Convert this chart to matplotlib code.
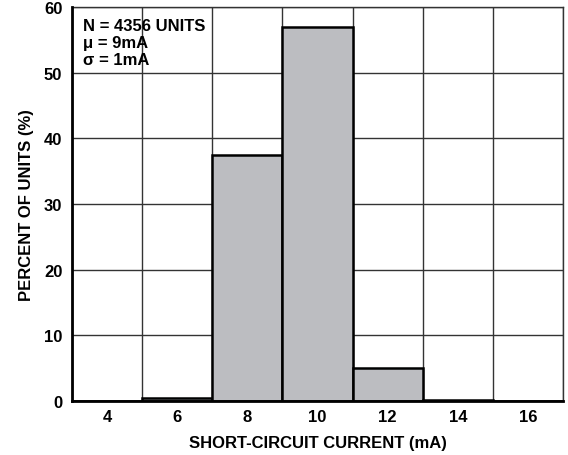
import matplotlib
matplotlib.use("Agg")
import matplotlib.pyplot as plt

# histogram of short-circuit current
bin_left = [3, 5, 7, 9, 11, 13, 15]
percent = [0.0, 0.4, 37.4, 57.0, 5.0, 0.2, 0.0]
bin_width = 2
x_ticks = [4, 6, 8, 10, 12, 14, 16]
y_ticks = [0, 10, 20, 30, 40, 50, 60]
stats_text = "N = 4356 UNITS\nμ = 9mA\nσ = 1mA"

plt.rcParams["font.family"] = ["Liberation Sans", "DejaVu Sans"]
plt.rcParams["font.weight"] = "bold"

fig = plt.figure(figsize=(5.68, 4.56), dpi=100)
ax = fig.add_axes([0.1268, 0.1184, 0.8644, 0.8641])

# grid at odd values (bin edges) and every 10 %
for xv in range(3, 18, 2):
    ax.axvline(xv, color="#333333", lw=1.0, zorder=1)
for yv in y_ticks:
    ax.axhline(yv, color="#333333", lw=1.0, zorder=1)

ax.bar(bin_left, percent, width=bin_width, align="edge", color="#bcbdc1",
       edgecolor="black", linewidth=1.8, zorder=2)

ax.set_xlim(3, 17)
ax.set_ylim(0, 60)
ax.set_xticks(x_ticks)
ax.set_yticks(y_ticks)
ax.tick_params(length=0, labelsize=12)
ax.tick_params(axis="x", pad=6)
ax.tick_params(axis="y", pad=7)
for lab in ax.get_xticklabels() + ax.get_yticklabels():
    lab.set_fontweight("bold")

for side in ["top", "right"]:
    ax.spines[side].set_linewidth(1.0)
    ax.spines[side].set_color("#333333")
for side in ["left", "bottom"]:
    ax.spines[side].set_linewidth(2.0)
    ax.spines[side].set_color("black")
    ax.spines[side].set_zorder(3)

ax.set_xlabel("SHORT-CIRCUIT CURRENT (mA)", fontsize=12, fontweight="bold", labelpad=8)
ax.set_ylabel("PERCENT OF UNITS (%)", fontsize=12, fontweight="bold", labelpad=7)

ax.text(0.022, 0.972, stats_text, transform=ax.transAxes, fontsize=12,
        fontweight="bold", va="top", ha="left", linespacing=1.17, zorder=4)

plt.savefig("out.png", dpi=100)
